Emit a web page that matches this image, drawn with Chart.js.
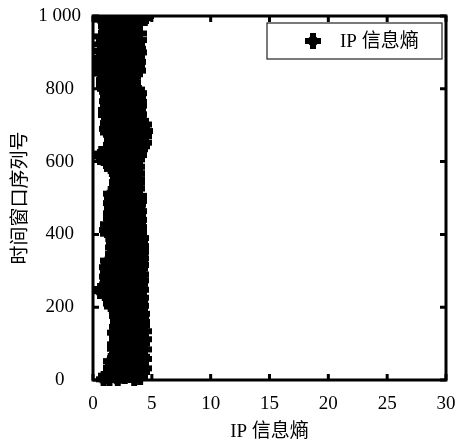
<!DOCTYPE html>
<html>
<head>
<meta charset="utf-8">
<script src="https://cdn.jsdelivr.net/npm/chart.js@4"></script>
<style>
  html, body { margin: 0; padding: 0; background: #fff; }
  canvas { display: block; }
</style>
</head>
<body>
<canvas id="entropyChart" width="461" height="445"></canvas>
<script>
// IP entropy per time window, one value every 2 windows (0 .. 1000)
const windowStep = 2;
const ipEntropy = [
  2.1, 0.9, 3.5, 1.4, 4.0, 2.7, 1.1, 3.2, 2.4, 3.9, 1.6, 4.2, 2.9, 1.9, 3.6, 2.3, 4.3, 1.5, 3.1, 2.6,
  3.8, 1.7, 2.8, 4.1, 2.2, 3.4, 1.5, 3.9, 2.5, 4.3, 1.9, 3.0, 4.2, 2.3, 3.6, 2.0, 3.3, 4.0, 2.7, 2.1,
  3.7, 2.4, 4.3, 1.9, 3.1, 2.8, 4.0, 2.2, 3.5, 1.9, 4.2, 2.6, 3.3, 2.0, 3.9, 2.9, 4.3, 2.3, 3.0, 3.7,
  2.0, 4.1, 3.2, 2.5, 3.8, 1.9, 3.5, 4.3, 2.2, 2.9, 4.0, 2.4, 3.6, 2.0, 3.1, 4.2, 2.7, 3.9, 2.1, 3.4,
  4.2, 2.6, 3.0, 2.1, 3.7, 4.1, 2.3, 3.3, 2.0, 3.9, 2.8, 4.2, 2.2, 3.5, 2.5, 3.8, 2.0, 4.0, 3.1, 2.4,
  3.6, 1.6, 4.1, 2.5, 3.0, 1.5, 3.8, 2.1, 4.0, 2.8, 1.7, 3.4, 2.3, 4.1, 1.5, 3.1, 2.6, 3.9, 1.8, 2.9,
  1.0, 3.7, 0.6, 2.4, 4.1, 0.8, 3.2, 1.6, 2.8, 3.9, 1.2, 2.0, 4.0, 2.7, 1.4, 3.5, 2.2, 4.1, 1.3, 3.0,
  2.5, 3.9, 1.2, 3.3, 2.1, 4.1, 1.6, 2.9, 3.6, 1.3, 3.8, 2.3, 1.7, 4.0, 2.7, 1.2, 3.4, 2.0, 4.1, 2.9,
  1.4, 3.1, 4.0, 2.2, 1.3, 3.7, 2.6, 4.1, 1.8, 3.3, 2.0, 4.0, 2.8, 1.7, 3.6, 2.3, 4.1, 3.0, 1.9, 3.8,
  2.5, 3.9, 1.7, 3.2, 4.1, 2.1, 3.5, 2.8, 1.8, 4.0, 2.4, 3.3, 1.9, 3.8, 2.7, 4.1, 2.0, 3.1, 3.7, 1.8,
  3.4, 1.3, 2.6, 3.9, 1.9, 3.1, 1.2, 3.7, 2.3, 2.9, 3.9, 1.5, 2.1, 3.5, 1.3, 3.8, 2.7, 1.7, 3.2, 2.4,
  3.9, 2.0, 1.5, 3.3, 2.6, 3.8, 1.8, 2.9, 3.6, 1.5, 3.1, 2.3, 3.9, 1.7, 2.8, 3.5, 1.6, 3.7, 2.2, 3.0,
  1.9, 3.8, 2.5, 1.5, 3.4, 2.9, 3.9, 1.7, 3.1, 2.3, 3.7, 1.6, 2.7, 3.9, 2.0, 3.3, 1.5, 3.6, 2.6, 3.0,
  2.1, 3.5, 2.8, 3.7, 2.0, 3.1, 2.5, 3.6, 2.2, 3.3, 2.9, 3.7, 2.0, 2.7, 3.4, 2.3, 3.7, 2.1, 3.0, 2.6,
  3.5, 2.2, 3.1, 2.0, 3.7, 2.6, 3.3, 2.1, 2.8, 3.6, 1.6, 3.4, 2.4, 3.7, 1.5, 3.0, 2.1, 3.6, 1.8, 2.7,
  3.5, 1.6, 2.8, 3.7, 2.2, 0.9, 3.3, 0.6, 2.5, 3.9, 1.1, 0.7, 3.0, 1.8, 3.8, 1.5, 2.4, 4.0, 1.7, 3.2,
  2.1, 4.2, 3.0, 1.5, 3.7, 2.6, 4.3, 1.8, 3.3, 2.3, 4.1, 1.6, 2.9, 3.9, 2.0, 4.3, 3.4, 1.5, 2.5, 4.0,
  1.3, 3.6, 4.4, 2.2, 3.0, 1.2, 4.2, 2.7, 3.8, 1.6, 3.3, 4.3, 2.0, 1.3, 3.7, 2.6, 4.1, 1.5, 3.1, 2.3,
  3.8, 1.4, 2.6, 3.3, 1.1, 3.9, 2.2, 3.0, 1.6, 3.6, 2.4, 1.1, 3.8, 2.9, 1.7, 3.4, 2.0, 3.9, 1.3, 2.7,
  3.2, 1.9, 3.9, 1.2, 2.6, 3.6, 1.5, 3.0, 2.2, 3.8, 1.3, 2.8, 3.5, 1.8, 3.9, 2.4, 1.2, 3.3, 2.0, 3.7,
  1.0, 2.7, 3.4, 1.6, 2.2, 0.9, 3.1, 1.9, 2.6, 3.4, 1.2, 2.4, 0.9, 3.2, 1.7, 2.9, 1.1, 3.4, 2.1, 1.5,
  3.6, 0.7, 2.3, 3.0, 1.4, 3.8, 0.6, 2.7, 1.9, 3.4, 1.0, 3.7, 2.2, 0.8, 3.1, 1.6, 2.6, 3.8, 0.6, 2.0,
  3.3, 1.2, 2.8, 0.7, 3.7, 1.8, 2.4, 0.9, 3.5, 2.0, 3.9, 1.3, 0.8, 3.0, 2.5, 3.8, 1.0, 2.2, 3.4, 1.6,
  2.9, 0.8, 3.7, 2.1, 1.4, 3.3, 2.6, 3.9, 0.9, 1.8, 3.2, 2.4, 0.8, 3.6, 1.5, 2.8, 3.9, 1.1, 2.2, 3.4,
  1.2, 3.0, 2.3, 3.6, 1.6, 2.7, 1.1, 3.4, 2.0, 3.6, 1.3, 2.5, 3.2, 1.8, 3.6, 0.7, 2.6, 4.4, 1.5, 3.5,
  4.5
];
const xTicks = [0, 5, 10, 15, 20, 25, 30];
const yTicks = [0, 200, 400, 600, 800, 1000];
const seriesLabel = 'IP 信息熵';
const xTitle = 'IP 信息熵';
const yTitle = '时间窗口序列号';

const FONT = '"Liberation Serif", "Noto Sans CJK SC", serif';

const points = ipEntropy.map((v, i) => ({ x: v, y: i * windowStep }));

// fat plus marker, like the one in the original plot
function makeMarker() {
  const c = document.createElement('canvas');
  c.width = 16; c.height = 16;
  const g = c.getContext('2d');
  g.fillStyle = '#000';
  g.fillRect(5, 0, 6, 16);
  g.fillRect(0, 5, 16, 6);
  g.beginPath();
  g.arc(8, 8, 5.3, 0, Math.PI * 2);
  g.fill();
  return c;
}
const marker = makeMarker();

// black frame with inward ticks on all four sides
const framePlugin = {
  id: 'frame',
  afterDatasetsDraw(chart) {
    const { ctx, chartArea: a, scales } = chart;
    ctx.save();
    ctx.strokeStyle = '#000';
    ctx.lineWidth = 3;
    ctx.strokeRect(a.left, a.top, a.right - a.left, a.bottom - a.top);
    ctx.beginPath();
    xTicks.forEach(t => {
      const px = scales.x.getPixelForValue(t);
      ctx.moveTo(px, a.bottom); ctx.lineTo(px, a.bottom - 6);
      ctx.moveTo(px, a.top); ctx.lineTo(px, a.top + 6);
    });
    yTicks.forEach(t => {
      const py = scales.y.getPixelForValue(t);
      ctx.moveTo(a.left, py); ctx.lineTo(a.left + 6, py);
      ctx.moveTo(a.right, py); ctx.lineTo(a.right - 6, py);
    });
    ctx.stroke();
    ctx.restore();
  }
};

// legend box in the top right corner of the plot
const legendBoxPlugin = {
  id: 'legendBox',
  afterDraw(chart) {
    const { ctx, chartArea: a } = chart;
    const w = 175, h = 36;
    const x0 = a.right - 4 - w, y0 = a.top + 7;
    ctx.save();
    ctx.fillStyle = '#fff';
    ctx.fillRect(x0, y0, w, h);
    ctx.strokeStyle = '#222';
    ctx.lineWidth = 1.2;
    ctx.strokeRect(x0, y0, w, h);
    const mx = x0 + 46, my = y0 + h / 2;
    ctx.drawImage(marker, mx - 8, my - 8);
    ctx.fillStyle = '#000';
    ctx.font = '19px ' + FONT;
    ctx.textBaseline = 'middle';
    ctx.fillText(seriesLabel, x0 + 73, my + 1);
    ctx.restore();
  }
};

new Chart(document.getElementById('entropyChart'), {
  type: 'scatter',
  data: {
    datasets: [{
      label: seriesLabel,
      data: points,
      pointStyle: marker,
      pointRadius: 8,
      borderColor: '#000',
      backgroundColor: '#000',
      clip: { left: 0, top: 0, right: 0, bottom: 6 }
    }]
  },
  options: {
    responsive: false,
    animation: false,
    events: [],
    layout: { padding: { top: 16, right: 15, left: 0, bottom: 0 } },
    plugins: { legend: { display: false }, tooltip: { enabled: false } },
    scales: {
      x: {
        type: 'linear',
        min: 0, max: 30,
        afterBuildTicks: s => { s.ticks = xTicks.map(v => ({ value: v })); },
        afterFit: s => { s.height = 65; s.paddingLeft = 0; s.paddingRight = 0; },
        grid: { display: false, drawTicks: false },
        border: { display: false },
        ticks: { color: '#000', padding: 13, maxRotation: 0, font: { family: FONT, size: 19 } },
        title: { display: true, text: xTitle, color: '#000', padding: { top: 0, bottom: 2 }, font: { family: FONT, size: 19 } }
      },
      y: {
        type: 'linear',
        min: 0, max: 1000,
        afterBuildTicks: s => { s.ticks = yTicks.map(v => ({ value: v })); },
        afterFit: s => { s.width = 93; s.paddingTop = 0; s.paddingBottom = 0; },
        grid: { display: false, drawTicks: false },
        border: { display: false },
        ticks: {
          color: '#000', padding: 12, crossAlign: 'center',
          font: { family: FONT, size: 19 },
          callback: v => v === 1000 ? '1 000' : String(v)
        },
        title: { display: true, text: yTitle, color: '#000', padding: { top: 10 }, font: { family: FONT, size: 19 } }
      }
    }
  },
  plugins: [framePlugin, legendBoxPlugin]
});
</script>
</body>
</html>
